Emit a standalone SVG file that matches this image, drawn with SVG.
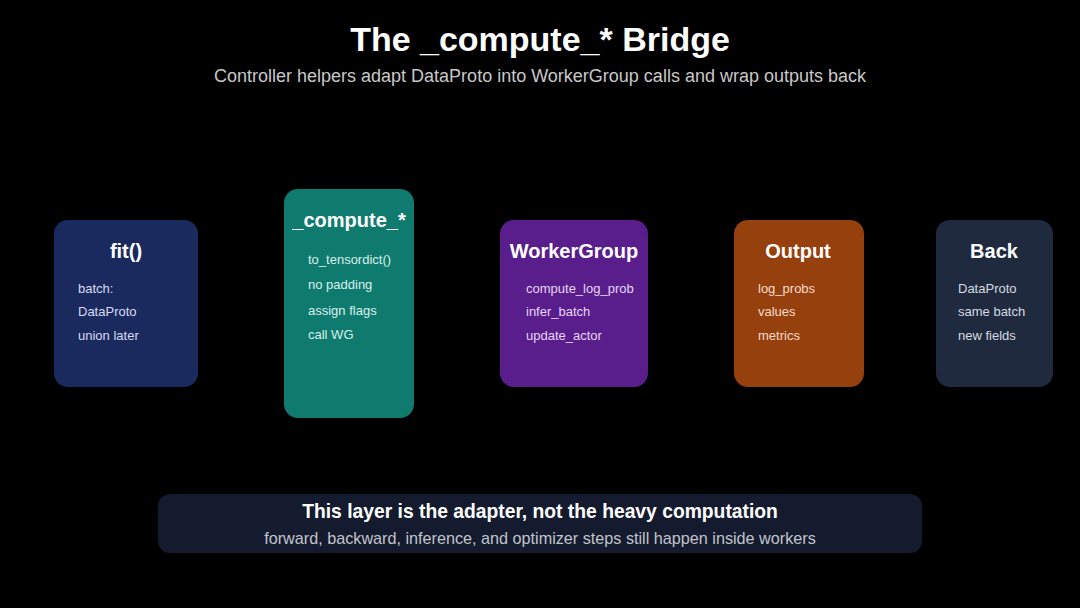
<svg xmlns="http://www.w3.org/2000/svg" width="1080" height="608" viewBox="0 0 1080 608">
<style>
.t{font-family:"Liberation Sans",Arial,sans-serif;fill:#fff;font-weight:bold;text-anchor:middle}
.h{font-size:20px}
.i{font-family:"Liberation Sans",Arial,sans-serif;font-size:13px}
.sub{font-family:"Liberation Sans",Arial,sans-serif;font-size:18px;fill:#c8c8c8;text-anchor:middle}
</style>
<rect width="1080" height="608" fill="#000"/>
<text class="t" x="540" y="51" font-size="34">The _compute_* Bridge</text>
<text class="sub" x="540" y="82">Controller helpers adapt DataProto into WorkerGroup calls and wrap outputs back</text>
<g id="connectors"></g>
<g id="fit">
<rect x="54" y="220" width="144" height="167" rx="14" fill="#1b2a5e"/>
<text class="t h" x="126" y="258">fit()</text>
<g class="i" fill="#d6dcf5"><text x="78" y="293">batch:</text><text x="78" y="316">DataProto</text><text x="78" y="340">union later</text></g>
</g>
<g id="compute">
<rect x="284" y="189" width="130" height="229" rx="14" fill="#0f7a6e"/>
<text class="t h" x="349" y="227">_compute_*</text>
<g class="i" fill="#d8f0ec"><text x="308" y="264">to_tensordict()</text><text x="308" y="289">no padding</text><text x="308" y="315">assign flags</text><text x="308" y="339">call WG</text></g>
</g>
<g id="workergroup">
<rect x="500" y="220" width="148" height="167" rx="14" fill="#5a1e8c"/>
<text class="t h" x="574" y="258">WorkerGroup</text>
<g class="i" fill="#e6d6f5"><text x="526" y="293">compute_log_prob</text><text x="526" y="316">infer_batch</text><text x="526" y="340">update_actor</text></g>
</g>
<g id="output">
<rect x="734" y="220" width="130" height="167" rx="14" fill="#96400e"/>
<text class="t h" x="798" y="258">Output</text>
<g class="i" fill="#f5dccb"><text x="758" y="293">log_probs</text><text x="758" y="316">values</text><text x="758" y="340">metrics</text></g>
</g>
<g id="back">
<rect x="936" y="220" width="117" height="167" rx="14" fill="#1f2a3f"/>
<text class="t h" x="994" y="258">Back</text>
<g class="i" fill="#d6dae2"><text x="958" y="293">DataProto</text><text x="958" y="316">same batch</text><text x="958" y="340">new fields</text></g>
</g>
<g id="banner">
<rect x="158" y="494" width="764" height="59" rx="12" fill="#151b2e"/>
<text class="t" x="540" y="518" font-size="19.3">This layer is the adapter, not the heavy computation</text>
<text class="sub" x="540" y="544" style="font-size:16.2px;fill:#c0c4cc">forward, backward, inference, and optimizer steps still happen inside workers</text>
</g>
</svg>
